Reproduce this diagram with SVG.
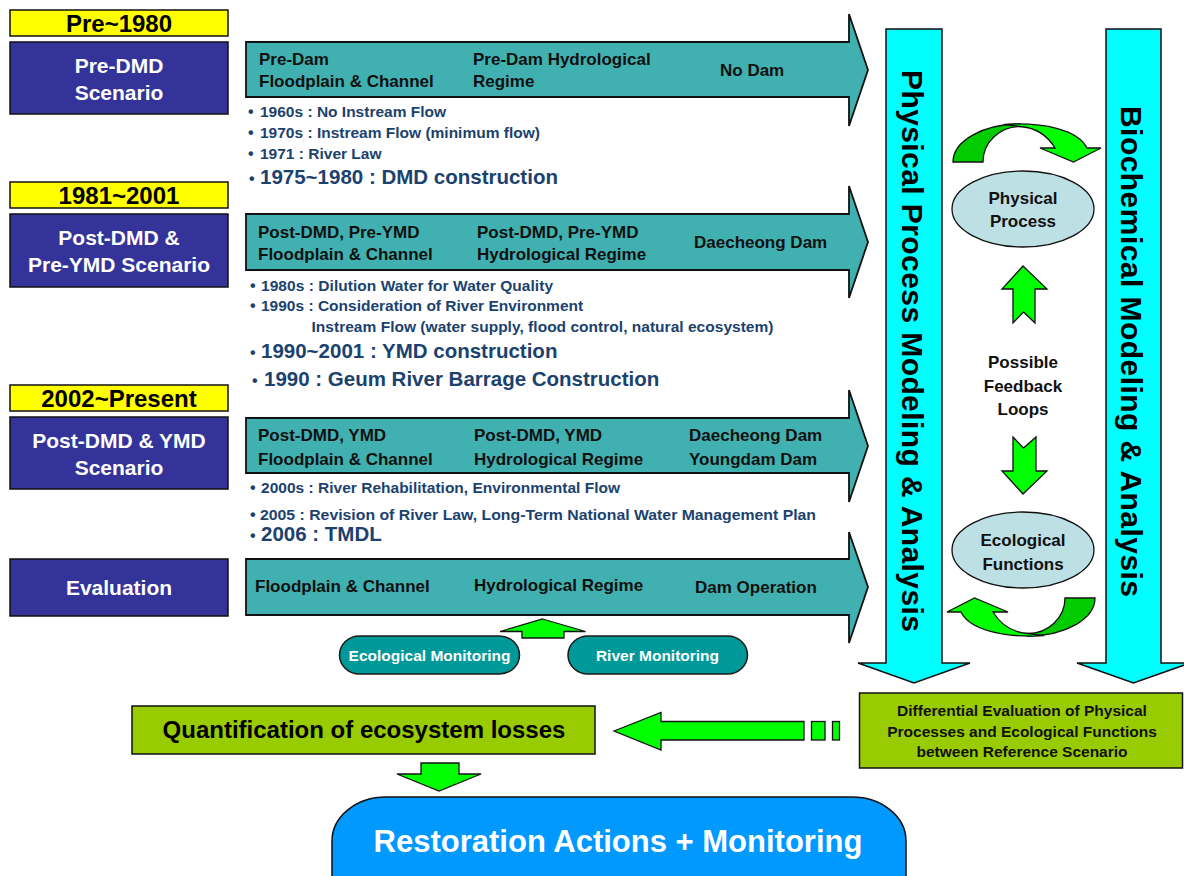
<svg xmlns="http://www.w3.org/2000/svg" width="1184" height="876" viewBox="0 0 1184 876">
  <style>
    text { font-family: "Liberation Sans", Arial, sans-serif; font-weight: bold; }
    .era { fill: #FFFF00; stroke: #111; stroke-width: 1.5; }
    .era-t { font-size: 24px; fill: #000; text-anchor: middle; }
    .scen { fill: #333399; stroke: #111; stroke-width: 1.5; }
    .scen-t { font-size: 21px; fill: #fff; text-anchor: middle; }
    .tl { fill: #40B0B0; stroke: #111; stroke-width: 1.8; stroke-linejoin: miter; }
    .tl-t { font-size: 17px; fill: #111; }
    .note { font-size: 15.5px; fill: #1B426E; }
    .note-b { font-size: 20.5px; fill: #1B426E; }
    .dot { font-size: 16px; fill: #1B426E; }
    .col { fill: #00FFFF; stroke: #111; stroke-width: 1.5; }
    .col-t { font-size: 30px; fill: #000; }
    .oval { fill: #BCE0E4; stroke: #111; stroke-width: 1.3; }
    .oval-t { font-size: 17px; fill: #111; text-anchor: middle; }
    .green { fill: #00FF00; stroke: #111; stroke-width: 1.3; stroke-linejoin: miter; }
    .green-d { fill: #00CC00; stroke: #111; stroke-width: 1.3; }
    .lime { fill: #99CC00; stroke: #111; stroke-width: 1.5; }
    .pill { fill: #009999; stroke: #1a1a1a; stroke-width: 1.5; }
    .pill-t { font-size: 15.5px; fill: #fff; text-anchor: middle; }
  </style>
  <defs>
    <!-- curved feedback arrow: dark back band, bright front band with head -->
    <g id="curl">
      <path class="green-d" d="M953,162 C953,141 983,124 1020,124 L1020,126.5 C1000,126.5 983,142 983,162 Z"/>
      <path class="green" d="M1004,124.3 C1045,122 1078,130 1087,148 L1101,148 L1073.5,162 L1040,148 L1055,148 C1047,135 1036,127.5 1020,126.5 Z"/>
    </g>
  </defs>

  <rect width="1184" height="876" fill="#fff"/>

  <!-- era labels -->
  <g id="era-pre1980">
    <rect class="era" x="10" y="10" width="218" height="26"/>
    <text class="era-t" x="119" y="32">Pre~1980</text>
  </g>
  <g id="era-1981-2001">
    <rect class="era" x="10" y="182" width="218" height="26"/>
    <text class="era-t" x="119" y="204">1981~2001</text>
  </g>
  <g id="era-2002-present">
    <rect class="era" x="10" y="385" width="218" height="26"/>
    <text class="era-t" x="119" y="407">2002~Present</text>
  </g>

  <!-- scenario boxes -->
  <g id="scenario-pre-dmd">
    <rect class="scen" x="10" y="42" width="218" height="72"/>
    <text class="scen-t" x="119" y="73">Pre-DMD</text>
    <text class="scen-t" x="119" y="100">Scenario</text>
  </g>
  <g id="scenario-post-dmd-pre-ymd">
    <rect class="scen" x="10" y="214" width="218" height="73"/>
    <text class="scen-t" x="119" y="245">Post-DMD &amp;</text>
    <text class="scen-t" x="119" y="272">Pre-YMD Scenario</text>
  </g>
  <g id="scenario-post-dmd-ymd">
    <rect class="scen" x="10" y="417" width="218" height="72"/>
    <text class="scen-t" x="119" y="448">Post-DMD &amp; YMD</text>
    <text class="scen-t" x="119" y="475">Scenario</text>
  </g>
  <g id="evaluation">
    <rect class="scen" x="10" y="559" width="218" height="57"/>
    <text class="scen-t" x="119" y="595">Evaluation</text>
  </g>

  <!-- timeline arrows -->
  <g id="timeline-pre-dam">
    <path class="tl" d="M246,42 H849 V14 L868,70 L849,126 V97 H246 Z"/>
    <text class="tl-t" x="259" y="65">Pre-Dam</text>
    <text class="tl-t" x="259" y="87">Floodplain &amp; Channel</text>
    <text class="tl-t" x="473" y="65">Pre-Dam Hydrological</text>
    <text class="tl-t" x="473" y="87">Regime</text>
    <text class="tl-t" x="720" y="76">No Dam</text>
  </g>
  <g id="timeline-post-dmd-pre-ymd">
    <path class="tl" d="M246,214 H849 V186 L868,242 L849,298 V270 H246 Z"/>
    <text class="tl-t" x="258" y="238">Post-DMD, Pre-YMD</text>
    <text class="tl-t" x="258" y="260">Floodplain &amp; Channel</text>
    <text class="tl-t" x="477" y="238">Post-DMD, Pre-YMD</text>
    <text class="tl-t" x="477" y="260">Hydrological Regime</text>
    <text class="tl-t" x="694" y="248">Daecheong Dam</text>
  </g>
  <g id="timeline-post-dmd-ymd">
    <path class="tl" d="M246,418 H849 V390 L868,446 L849,502 V473 H246 Z"/>
    <text class="tl-t" x="258" y="441">Post-DMD, YMD</text>
    <text class="tl-t" x="258" y="465">Floodplain &amp; Channel</text>
    <text class="tl-t" x="474" y="441">Post-DMD, YMD</text>
    <text class="tl-t" x="474" y="465">Hydrological Regime</text>
    <text class="tl-t" x="689" y="441">Daecheong Dam</text>
    <text class="tl-t" x="689" y="465">Youngdam Dam</text>
  </g>
  <g id="timeline-evaluation">
    <path class="tl" d="M246,559 H849 V532 L868,587 L849,643 V615 H246 Z"/>
    <text class="tl-t" x="255" y="592">Floodplain &amp; Channel</text>
    <text class="tl-t" x="474" y="591">Hydrological Regime</text>
    <text class="tl-t" x="695" y="593">Dam Operation</text>
  </g>

  <!-- history notes -->
  <g id="notes-pre1980">
    <text class="dot" x="248" y="117">•</text>
    <text class="note" x="260" y="117">1960s : No Instream Flow</text>
    <text class="dot" x="248" y="138">•</text>
    <text class="note" x="260" y="138">1970s : Instream Flow (minimum flow)</text>
    <text class="dot" x="248" y="159">•</text>
    <text class="note" x="260" y="159">1971 : River Law</text>
    <text class="dot" x="249" y="184">•</text>
    <text class="note-b" x="260" y="184">1975~1980 : DMD construction</text>
  </g>
  <g id="notes-1981-2001">
    <text class="dot" x="250" y="291">•</text>
    <text class="note" x="261" y="291" textLength="292">1980s : Dilution Water for Water Quality</text>
    <text class="dot" x="250" y="311">•</text>
    <text class="note" x="261" y="311">1990s : Consideration of River Environment</text>
    <text class="note" x="311.5" y="332" textLength="462">Instream Flow (water supply, flood control, natural ecosystem)</text>
    <text class="dot" x="250" y="358">•</text>
    <text class="note-b" x="261" y="358">1990~2001 : YMD construction</text>
    <text class="dot" x="252" y="386">•</text>
    <text class="note-b" x="264" y="386">1990 : Geum River Barrage Construction</text>
  </g>
  <g id="notes-2002-present">
    <text class="dot" x="250" y="493">•</text>
    <text class="note" x="261" y="493" textLength="359">2000s : River Rehabilitation, Environmental Flow</text>
    <text class="dot" x="250" y="520">•</text>
    <text class="note" x="260" y="520" textLength="556" lengthAdjust="spacingAndGlyphs">2005 : Revision of River Law, Long-Term National  Water Management Plan</text>
    <text class="dot" x="250" y="541">•</text>
    <text class="note-b" x="261" y="541">2006 : TMDL</text>
  </g>

  <!-- modeling columns -->
  <g id="physical-modeling">
    <path class="col" d="M886,29 H942 V663 H970 L914,683 L858,663 H886 Z"/>
    <text class="col-t" transform="translate(902,70) rotate(90)" textLength="562">Physical Process Modeling &amp; Analysis</text>
  </g>
  <g id="biochemical-modeling">
    <path class="col" d="M1106,29 H1161 V663 H1190 L1133.5,683 L1077,663 H1106 Z"/>
    <text class="col-t" transform="translate(1121,106) rotate(90)" textLength="491">Biochemical Modeling &amp; Analysis</text>
  </g>

  <g id="physical-process">
    <ellipse class="oval" cx="1023" cy="209" rx="71" ry="38"/>
    <text class="oval-t" x="1023" y="204">Physical</text>
    <text class="oval-t" x="1023" y="227">Process</text>
  </g>
  <g id="feedback-label">
    <text class="oval-t" x="1023" y="368">Possible</text>
    <text class="oval-t" x="1023" y="392">Feedback</text>
    <text class="oval-t" x="1023" y="415">Loops</text>
  </g>
  <g id="ecological-functions">
    <ellipse class="oval" cx="1023" cy="550" rx="71" ry="38"/>
    <text class="oval-t" x="1023" y="546">Ecological</text>
    <text class="oval-t" x="1023" y="570">Functions</text>
  </g>

  <!-- monitoring -->
  <g id="ecological-monitoring">
    <rect class="pill" x="339.5" y="636" width="180" height="38" rx="20" ry="19"/>
    <text class="pill-t" x="429.5" y="661">Ecological Monitoring</text>
  </g>
  <g id="river-monitoring">
    <rect class="pill" x="568" y="636" width="179.5" height="38" rx="20" ry="19"/>
    <text class="pill-t" x="657.5" y="661">River Monitoring</text>
  </g>

  <!-- outcomes -->
  <g id="differential-evaluation">
    <rect class="lime" x="859.5" y="693" width="323" height="75"/>
    <text x="1022" y="716" font-size="15.5" fill="#111" text-anchor="middle">Differential Evaluation of Physical</text>
    <text x="1022" y="737" font-size="15.5" fill="#111" text-anchor="middle">Processes and Ecological Functions</text>
    <text x="1022" y="757" font-size="15.5" fill="#111" text-anchor="middle">between Reference Scenario</text>
  </g>
  <g id="quantification">
    <rect class="lime" x="132" y="706" width="463" height="48"/>
    <text x="364" y="738" font-size="24" fill="#000" text-anchor="middle">Quantification of ecosystem losses</text>
  </g>
  <g id="restoration">
    <rect x="332" y="797" width="574" height="140" rx="54" ry="44" fill="#0099FF" stroke="#111" stroke-width="1.5"/>
    <text x="618" y="852" font-size="31" fill="#fff" text-anchor="middle">Restoration Actions + Monitoring</text>
  </g>

  <!-- connectors -->
  <g id="connectors">
    <!-- feedback loop between the two columns -->
    <use href="#curl"/>
    <use href="#curl" transform="rotate(180 1024 380)"/>
    <path class="green" d="M1023,266 L1047,289 H1035 V323 L1023.5,312 L1013,323 V289 H1002 Z"/>
    <path class="green" d="M1013,437 L1023.5,448 L1036,437 V471 H1047 L1023,494 L1002,471 H1013 Z"/>
    <!-- monitoring feeds the evaluation timeline -->
    <path class="green" d="M542.5,619 L585.5,631.5 H564 V638 H522 V631.5 H500 Z"/>
    <!-- differential evaluation to quantification -->
    <path class="green" d="M614,731 L661,712.5 V721.5 H804 V740 H661 V750 Z"/>
    <rect class="green" x="811.5" y="721.5" width="13.5" height="18.5"/>
    <rect class="green" x="832.5" y="721.5" width="7" height="18.5"/>
    <!-- quantification to restoration -->
    <path class="green" d="M421,763 H459 V774 H481 L439,791 L397,774 H421 Z"/>
  </g>
</svg>
